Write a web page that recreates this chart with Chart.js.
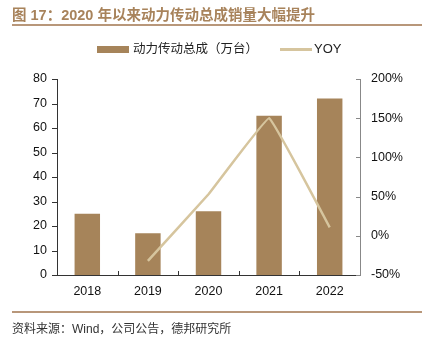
<!DOCTYPE html>
<html>
<head>
<meta charset="utf-8">
<script src="https://cdn.jsdelivr.net/npm/chart.js@4/dist/chart.umd.min.js"></script>
<style>
  html, body { margin: 0; padding: 0; background: #fff; }
  #wrap { position: relative; width: 426px; height: 345px; overflow: hidden; }
  #chart { position: absolute; left: 0; top: 0; }
  .title {
    position: absolute; left: 12px; top: 3px;
    font: bold 14.5px "Liberation Sans", "Noto Sans CJK SC", sans-serif;
    color: #a8835b; white-space: nowrap;
  }
  .rule { position: absolute; left: 12px; width: 410px; height: 1.5px; background: #b8977a; }
  .legend {
    position: absolute; top: 40px; height: 18px;
    font: 12.5px "Liberation Sans", "Noto Sans CJK SC", sans-serif; color: #222;
    white-space: nowrap; line-height: 18px;
  }
  .swatch { position: absolute; }
  .source {
    position: absolute; left: 12px; top: 319px;
    font: 12px "Liberation Sans", "Noto Sans CJK SC", sans-serif; color: #333; white-space: nowrap;
  }
</style>
</head>
<body>
<div id="wrap">
  <canvas id="chart" width="426" height="345"></canvas>
  <div class="title">图 17：2020 年以来动力传动总成销量大幅提升</div>
  <div class="rule" style="top:24px"></div>
  <div class="swatch" style="left:97px;top:46px;width:32px;height:7px;background:#a6845a"></div>
  <div class="legend" style="left:133px">动力传动总成（万台）</div>
  <div class="swatch" style="left:280px;top:48px;width:32px;height:2.5px;background:#d6c59e"></div>
  <div class="legend" style="left:314px;font-size:13px">YOY</div>
  <div class="rule" style="top:311px"></div>
  <div class="source">资料来源：Wind，公司公告，德邦研究所</div>
</div>
<script>
const years = ["2018", "2019", "2020", "2021", "2022"];
const sales = [25, 17, 26, 65, 72];          // 万台
const yoy = [null, -32, 53, 150, 10.8];       // %
const leftTicks = [0, 10, 20, 30, 40, 50, 60, 70, 80];
const rightTicks = [-50, 0, 50, 100, 150, 200];

const BAR_COLOR = "#a6845a";
const LINE_COLOR = "#d6c59e";
const TICK_FONT = { family: "'Liberation Sans', Arial, sans-serif", size: 12.5 };

// tick marks: left outward, right inward, bottom pointing up at category edges
const tickMarks = {
  id: "tickMarks",
  afterDraw(chart) {
    const { ctx, chartArea, scales } = chart;
    ctx.save();
    ctx.lineWidth = 1;
    ctx.strokeStyle = "#333";
    leftTicks.forEach((v) => {
      const y = Math.round(scales.y.getPixelForValue(v)) + 0.5;
      ctx.beginPath();
      ctx.moveTo(chartArea.left - 5, y);
      ctx.lineTo(chartArea.left, y);
      ctx.stroke();
    });
    ctx.strokeStyle = "#888";
    rightTicks.forEach((v) => {
      const y = Math.round(scales.y1.getPixelForValue(v)) + 0.5;
      ctx.beginPath();
      ctx.moveTo(chartArea.right - 4, y);
      ctx.lineTo(chartArea.right, y);
      ctx.stroke();
    });
    ctx.strokeStyle = "#333";
    for (let i = 1; i < years.length; i++) {
      const x = Math.round((scales.x.getPixelForValue(i - 1) + scales.x.getPixelForValue(i)) / 2) + 0.5;
      ctx.beginPath();
      ctx.moveTo(x, chartArea.bottom);
      ctx.lineTo(x, chartArea.bottom - 4);
      ctx.stroke();
    }
    ctx.restore();
  },
};

new Chart(document.getElementById("chart"), {
  data: {
    labels: years,
    datasets: [
      {
        type: "line",
        label: "YOY",
        data: yoy,
        yAxisID: "y1",
        borderColor: LINE_COLOR,
        borderWidth: 2.5,
        pointRadius: 0,
        tension: 0.06,
        order: 0,
      },
      {
        type: "bar",
        label: "动力传动总成（万台）",
        data: sales,
        yAxisID: "y",
        backgroundColor: BAR_COLOR,
        categoryPercentage: 1,
        barPercentage: 0.42,
        order: 1,
      },
    ],
  },
  plugins: [tickMarks],
  options: {
    responsive: false,
    animation: false,
    layout: { padding: { top: 79, left: 0, right: 0, bottom: 0 } },
    plugins: { legend: { display: false }, tooltip: { enabled: false } },
    scales: {
      x: {
        grid: { display: false, drawTicks: false },
        border: { color: "#333", width: 1 },
        ticks: { color: "#111", font: TICK_FONT, padding: 9 },
        afterFit: (s) => { s.height = 70; },
      },
      y: {
        position: "left",
        min: 0,
        max: 80,
        afterBuildTicks: (s) => { s.ticks = leftTicks.map((v) => ({ value: v })); },
        grid: { display: false, drawTicks: false },
        border: { color: "#333", width: 1 },
        ticks: { color: "#111", font: TICK_FONT, padding: 10 },
        afterFit: (s) => { s.width = 57; },
      },
      y1: {
        position: "right",
        min: -50,
        max: 200,
        afterBuildTicks: (s) => { s.ticks = rightTicks.map((v) => ({ value: v })); },
        grid: { display: false, drawTicks: false },
        border: { color: "#888", width: 1 },
        ticks: { color: "#111", font: TICK_FONT, padding: 11, callback: (v) => v + "%" },
        afterFit: (s) => { s.width = 66; },
      },
    },
  },
});
</script>
</body>
</html>
